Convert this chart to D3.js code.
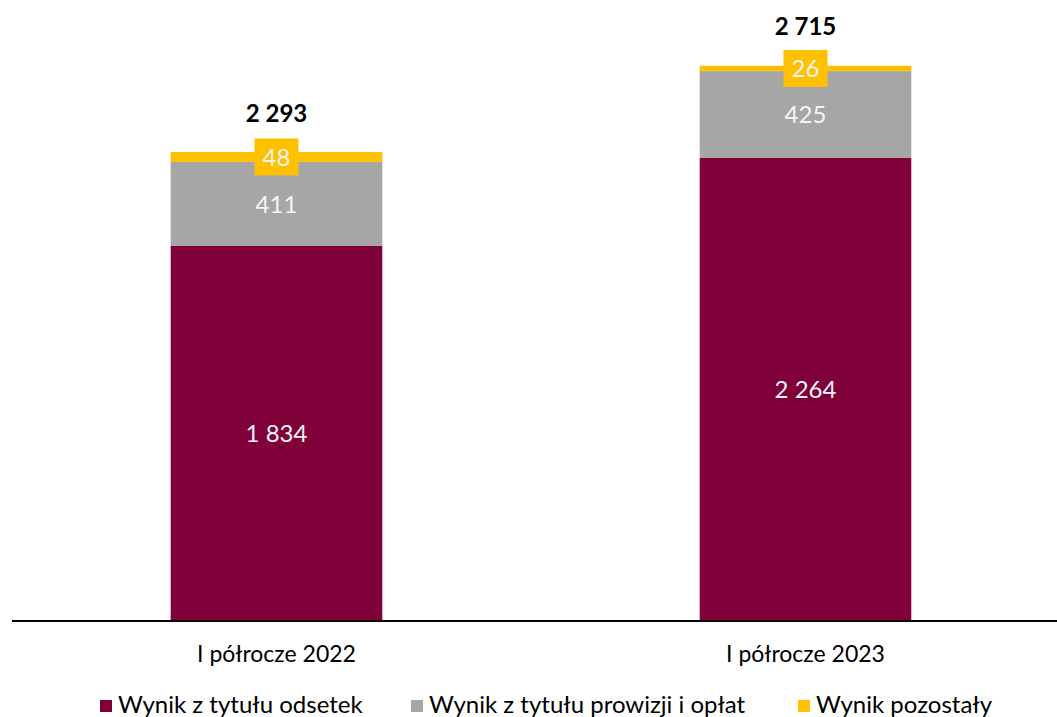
<!DOCTYPE html>
<html><head><meta charset="utf-8">
<script src="https://cdn.jsdelivr.net/npm/d3@7"></script>
<style>body{margin:0;background:#fff}svg{display:block}text{font-family:Lato,"Noto Sans",sans-serif}</style>
</head><body>
<svg id="c" width="1057" height="717"></svg>
<script>
const categories = ["I półrocze 2022", "I półrocze 2023"];
const seriesNames = ["Wynik z tytułu odsetek", "Wynik z tytułu prowizji i opłat", "Wynik pozostały"];
const odsetki = [1834, 2264];
const prowizje = [411, 425];
const pozostaly = [48, 26];
const totals = [2293, 2715];
const colors = ["#80003A", "#A6A6A6", "#FFC000"];

const svg = d3.select("#c");
const x = d3.scaleBand().domain(categories).range([12, 1070]).paddingInner(0.6).paddingOuter(0.3);
const y = d3.scaleLinear().domain([0, 3000]).range([621, 7.5]);
const fmt = v => d3.format(",")(v).replace(/,/g, " ");

const rows = categories.map((c, i) => ({cat: c, a: odsetki[i], b: prowizje[i], c: pozostaly[i]}));
const stack = d3.stack().keys(["a", "b", "c"])(rows);

stack.forEach((layer, li) => {
  const g = svg.append("g");
  g.selectAll("rect").data(layer).join("rect")
    .attr("x", d => x(d.data.cat)).attr("width", x.bandwidth())
    .attr("y", d => y(d[1])).attr("height", d => y(d[0]) - y(d[1]))
    .attr("fill", colors[li]);
});

// segment labels
stack.forEach((layer, li) => {
  layer.forEach(d => {
    const cx = x(d.data.cat) + x.bandwidth() / 2;
    const cy = (y(d[0]) + y(d[1])) / 2;
    const v = d[1] - d[0];
    if (li === 2) {
      svg.append("rect").attr("x", cx - 22).attr("y", cy - 18.5).attr("width", 44).attr("height", 37).attr("fill", colors[2]);
    }
    svg.append("text").attr("x", cx).attr("y", cy).attr("dy", "0.36em")
      .attr("text-anchor", "middle").attr("font-size", 24).attr("fill", "#F5F5F5").text(fmt(v));
  });
});

// totals
categories.forEach((c, i) => {
  svg.append("text").attr("x", x(c) + x.bandwidth() / 2).attr("y", y(totals[i]) - 30.5)
    .attr("text-anchor", "middle").attr("font-size", 24).attr("font-weight", "bold").attr("fill", "#000").text(fmt(totals[i]));
});

// axis
const ax = svg.append("g").attr("transform", "translate(0,621)").call(d3.axisBottom(x).tickSize(0).tickPadding(25));
ax.select(".domain").attr("d", "M12,0H1057").attr("stroke", "#000").attr("stroke-width", 2);
ax.selectAll("text").attr("font-size", 23).attr("fill", "#000").attr("font-family", "Lato");

// legend
const legX = [100, 411, 798];
seriesNames.forEach((n, i) => {
  svg.append("rect").attr("x", legX[i]).attr("y", 700).attr("width", 12).attr("height", 12).attr("fill", colors[i]);
  svg.append("text").attr("x", legX[i] + 18).attr("y", 713).attr("font-size", 24).attr("fill", "#000").text(n);
});
</script>
</body></html>
